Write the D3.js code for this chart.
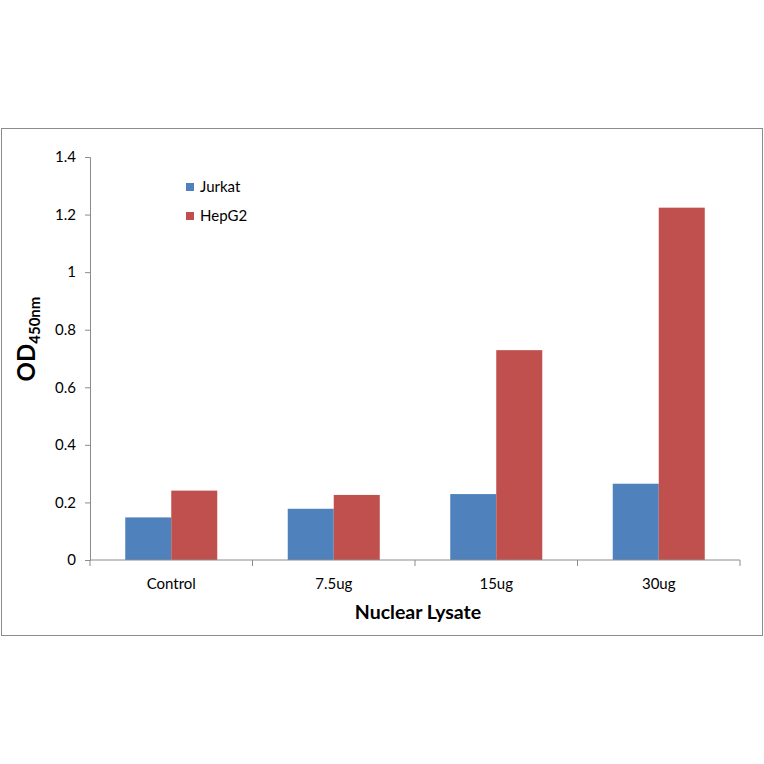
<!DOCTYPE html>
<html>
<head>
<meta charset="utf-8">
<script src="https://cdn.jsdelivr.net/npm/d3@7"></script>
<style>
  body { margin: 0; background: #fff; }
  text { font-family: Lato, "Open Sans", sans-serif; fill: #000; }
</style>
</head>
<body>
<div id="chart"></div>
<script>
var categories = ['Control', '7.5ug', '15ug', '30ug'];
var series = ['Jurkat', 'HepG2'];
var jurkat = [0.148, 0.178, 0.229, 0.265];
var hepg2 = [0.241, 0.226, 0.729, 1.224];
var yTicks = [0, 0.2, 0.4, 0.6, 0.8, 1, 1.2, 1.4];
var colors = ['#4F81BD', '#C0504D'];

var W = 764, H = 764;
var margin = {top: 157, right: 24, bottom: 204, left: 90},
    width = W - margin.left - margin.right,
    height = H - margin.top - margin.bottom;

var svg = d3.select('#chart')
    .append('svg')
    .attr('width', W)
    .attr('height', H);

// outer frame
svg.append('rect')
    .attr('x', 1.5)
    .attr('y', 128.5)
    .attr('width', 761)
    .attr('height', 507)
    .attr('fill', 'none')
    .attr('stroke', '#8c8c8c')
    .attr('stroke-width', 1);

var g = svg.append('g')
    .attr('transform', 'translate(' + margin.left + ',' + margin.top + ')');

var x0 = d3.scaleBand()
    .domain(categories)
    .range([0, width])
    .padding(0);

var x1 = d3.scaleBand()
    .domain(series)
    .range([0, x0.bandwidth()])
    .paddingInner(0)
    .paddingOuter(0.766);

var y = d3.scaleLinear()
    .domain([0, 1.4])
    .range([height, 0]);

var rows = categories.map(function (c, i) {
    return {cat: c, values: [jurkat[i], hepg2[i]]};
});

// bars
var groups = g.selectAll('.grp')
    .data(rows)
    .enter()
    .append('g')
    .attr('class', 'grp')
    .attr('transform', function (d) { return 'translate(' + x0(d.cat) + ',0)'; });

groups.selectAll('rect')
    .data(function (d) {
        return d.values.map(function (v, j) { return {s: series[j], v: v, j: j}; });
    })
    .enter()
    .append('rect')
    .attr('x', function (d) { return x1(d.s); })
    .attr('y', function (d) { return y(d.v); })
    .attr('width', x1.bandwidth())
    .attr('height', function (d) { return height - y(d.v); })
    .attr('fill', function (d) { return colors[d.j]; });

// y axis
var yAxis = g.append('g')
    .call(d3.axisLeft(y)
        .tickValues(yTicks)
        .tickSize(5)
        .tickPadding(9)
        .tickFormat(function (d) { return d3.format('~g')(d); }));
yAxis.select('.domain').attr('stroke', '#8c8c8c');
yAxis.selectAll('.tick line').attr('stroke', '#8c8c8c');
yAxis.selectAll('text')
    .style('font-size', '15px')
    .style('font-family', 'Lato, "Open Sans", sans-serif');

// x axis: line with ticks at band boundaries
var xAxis = g.append('g')
    .attr('transform', 'translate(0,' + height + ')');
xAxis.append('line')
    .attr('x1', 0)
    .attr('x2', width)
    .attr('stroke', '#8c8c8c');
var bounds = categories.map(function (c) { return x0(c); }).concat([width]);
xAxis.selectAll('.btick')
    .data(bounds)
    .enter()
    .append('line')
    .attr('x1', function (d) { return d; })
    .attr('x2', function (d) { return d; })
    .attr('y1', 0)
    .attr('y2', 6)
    .attr('stroke', '#8c8c8c');
xAxis.selectAll('.lbl')
    .data(categories)
    .enter()
    .append('text')
    .attr('x', function (d) { return x0(d) + x0.bandwidth() / 2; })
    .attr('y', 29)
    .attr('text-anchor', 'middle')
    .style('font-size', '15px')
    .text(function (d) { return d; });

// axis titles
svg.append('text')
    .attr('x', margin.left + width / 2 + 3)
    .attr('y', 619)
    .attr('text-anchor', 'middle')
    .style('font-size', '19.5px')
    .style('font-weight', 'bold')
    .text('Nuclear Lysate');

var yt = svg.append('text')
    .attr('transform', 'translate(35,339) rotate(-90)')
    .attr('text-anchor', 'middle')
    .style('font-weight', 'bold');
yt.append('tspan').style('font-size', '24px').text('OD');
yt.append('tspan').style('font-size', '15px').attr('dy', 5).text('450nm');

// legend
var legend = svg.append('g')
    .attr('transform', 'translate(186,180)');
var li = legend.selectAll('.li')
    .data(series)
    .enter()
    .append('g')
    .attr('transform', function (d, i) { return 'translate(0,' + i * 29 + ')'; });
li.append('rect')
    .attr('width', 8)
    .attr('height', 8)
    .attr('y', 3)
    .attr('fill', function (d, i) { return colors[i]; });
li.append('text')
    .attr('x', 14)
    .attr('y', 12)
    .style('font-size', '15px')
    .text(function (d) { return d; });
</script>
</body>
</html>
